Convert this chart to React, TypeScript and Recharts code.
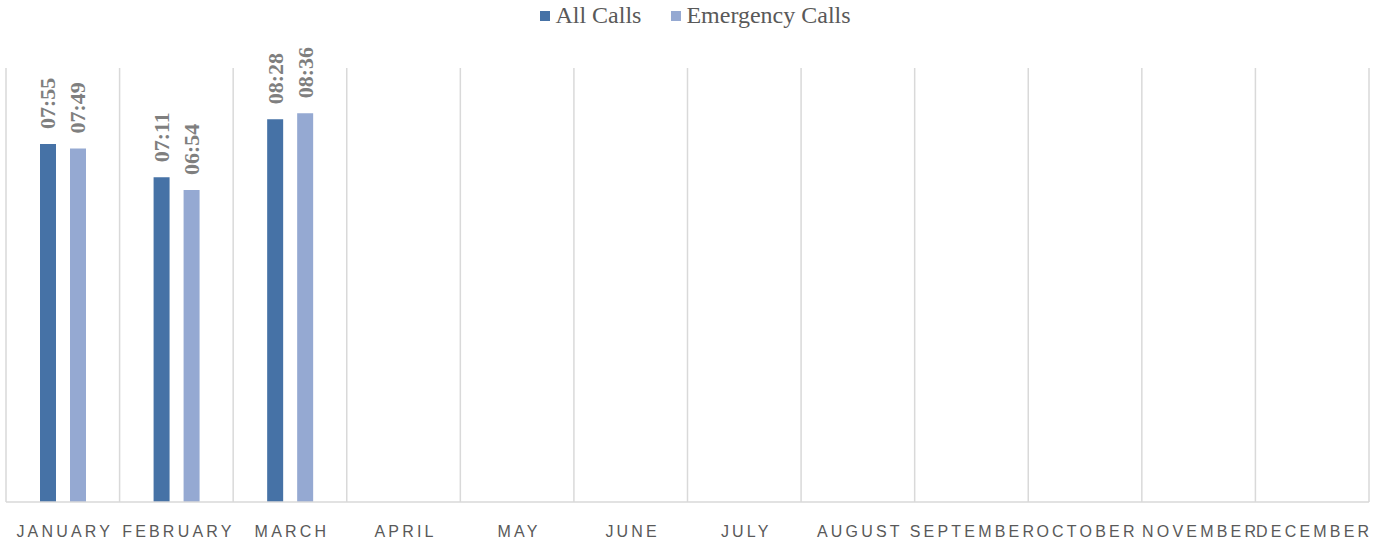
import React from 'react';
import { BarChart, Bar, XAxis, YAxis, CartesianGrid, LabelList } from 'recharts';

// average call handling time, in seconds (shown as mm:ss)
const months = ['JANUARY', 'FEBRUARY', 'MARCH', 'APRIL', 'MAY', 'JUNE', 'JULY', 'AUGUST', 'SEPTEMBER', 'OCTOBER', 'NOVEMBER', 'DECEMBER'];
const allCalls = [475, 431, 508, null, null, null, null, null, null, null, null, null];
const emergencyCalls = [469, 414, 516, null, null, null, null, null, null, null, null, null];
const yMax = 576; // 09:36

const DARK = '#4672a6';
const LIGHT = '#95a9d2';

const data = months.map((m, i) => ({ month: m, all: allCalls[i], emergency: emergencyCalls[i] }));

const fmt = (s: number) => {
  const mm = Math.floor(s / 60);
  const ss = s % 60;
  return `${String(mm).padStart(2, '0')}:${String(ss).padStart(2, '0')}`;
};

const ValueLabel = (props: any) => {
  const { x, y, width, value } = props;
  if (value == null) return null;
  const cx = x + width / 2;
  const ty = y - 15;
  return (
    <text
      x={cx}
      y={ty}
      transform={`rotate(-90, ${cx}, ${ty})`}
      textAnchor="start"
      dominantBaseline="central"
      fontFamily="'Liberation Serif', 'Times New Roman', serif"
      fontWeight="bold"
      fontSize={22}
      fill="#7f7f7f"
    >
      {fmt(value)}
    </text>
  );
};

const MonthTick = (props: any) => {
  const { x, y, payload } = props;
  return (
    <text
      x={x + 2}
      y={y + 27}
      textAnchor="middle"
      fontFamily="'Liberation Sans', Arial, sans-serif"
      fontSize={16}
      letterSpacing={3.2}
      fill="#595959"
    >
      {payload.value}
    </text>
  );
};

const gridX = ({ offset }: any) =>
  months.map((_, i) => offset.left + (i * offset.width) / months.length).concat(offset.left + offset.width);

export default function App() {
  return (
    <div style={{ position: 'absolute', left: 0, top: 0, width: 1387, height: 543, background: '#fff' }}>
      <div
        style={{
          position: 'absolute',
          top: 2,
          left: 0,
          width: 1387,
          display: 'flex',
          justifyContent: 'center',
          gap: 30,
          fontFamily: "'Liberation Serif', 'Times New Roman', serif",
          fontSize: 24,
          color: '#595959',
          paddingLeft: 4,
          boxSizing: 'border-box',
        }}
      >
        {[['All Calls', DARK], ['Emergency Calls', LIGHT]].map(([name, c]) => (
          <div key={name} style={{ display: 'flex', alignItems: 'center' }}>
            <span style={{ width: 10, height: 10, background: c, display: 'inline-block', marginRight: 5 }} />
            <span>{name}</span>
          </div>
        ))}
      </div>
      <BarChart
        width={1387}
        height={543}
        data={data}
        margin={{ top: 68, right: 18, left: 6, bottom: 0 }}
        barGap={14}
      >
        <CartesianGrid
          horizontal={false}
          stroke="#d9d9d9"
          strokeWidth={1.5}
          verticalCoordinatesGenerator={gridX}
        />
        <XAxis
          dataKey="month"
          interval={0}
          height={41}
          tickLine={false}
          axisLine={{ stroke: '#d9d9d9', strokeWidth: 1.5 }}
          tick={<MonthTick />}
        />
        <YAxis hide domain={[0, yMax]} />
        <Bar dataKey="all" name="All Calls" fill={DARK} barSize={16} isAnimationActive={false}>
          <LabelList dataKey="all" content={<ValueLabel />} />
        </Bar>
        <Bar dataKey="emergency" name="Emergency Calls" fill={LIGHT} barSize={16} isAnimationActive={false}>
          <LabelList dataKey="emergency" content={<ValueLabel />} />
        </Bar>
      </BarChart>
    </div>
  );
}
